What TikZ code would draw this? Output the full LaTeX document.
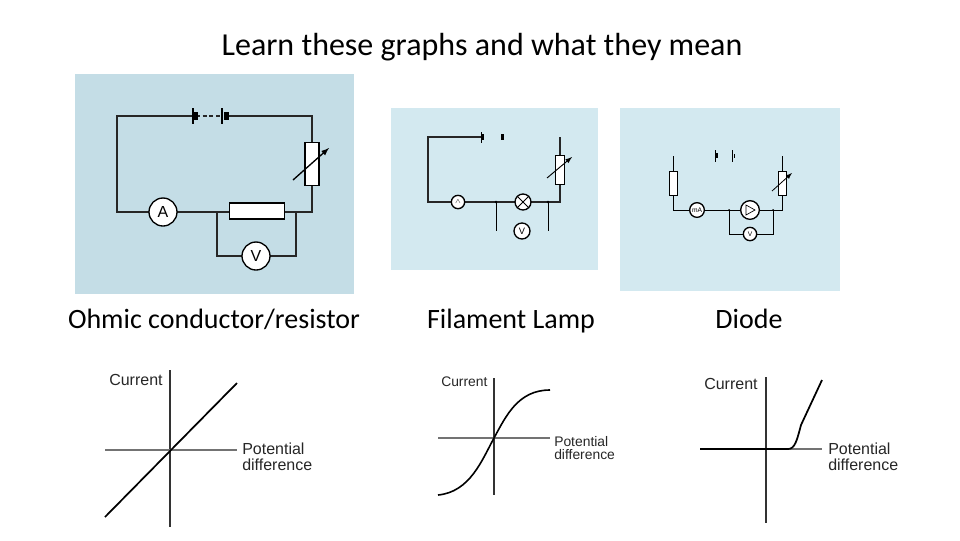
\documentclass[tikz,border=0pt]{standalone}
\usepackage{fontspec}
\setmainfont{Carlito}
\newfontfamily\arialf{Liberation Sans}
\definecolor{panelA}{HTML}{C4DDE6}
\definecolor{panelB}{HTML}{D3E9F0}
\begin{document}
\begin{tikzpicture}[x=0.75pt,y=-0.75pt,
 w/.style={line width=1.6pt,black!85},
 tw/.style={line width=0.8pt,black!85},
 meter/.style={circle,draw,line width=1pt,fill=white,inner sep=0pt,font=\arialf\small},
 ax/.style={line width=0.9pt,black!80},
 lbl/.style={font=\arialf\fontsize{12}{12.5}\selectfont,text=black!85,align=left,anchor=north west,inner sep=0pt},
 captxt/.style={font=\fontsize{21}{24}\selectfont,anchor=base}]
\useasboundingbox (0,0) rectangle (960,540);
\node[font=\fontsize{24}{28}\selectfont,anchor=base] (title) at (482,55) {Learn these graphs and what they mean};
% panels
\fill[panelA] (75,74) rectangle (354,294);
\fill[panelB] (391,108) rectangle (598,270);
\fill[panelB] (620,108) rectangle (840,291);
% circuit 1
\coordinate (a1) at (117,116); \coordinate (a2) at (193,116);
\coordinate (a3) at (224,116); \coordinate (a4) at (312,116);
\coordinate (a5) at (312,212); \coordinate (a6) at (117,212);
\coordinate (j1) at (217,212); \coordinate (j2) at (296,212);
\coordinate (b1) at (217,256); \coordinate (b2) at (296,256);
\draw[w] (a2)--(a1)--(a6)--(a5)--(a4)--(a3);
\draw[w] (j1)--(b1)--(b2)--(j2);
\draw[w,densely dashed] (196,116)--(222,116);
\draw[line width=1pt] (193,108)--(193,124); \fill (194,112) rectangle (198,120);
\draw[line width=1pt] (222,108)--(222,124); \fill (224,112) rectangle (229,120);
\node[draw,fill=white,line width=1pt,minimum width=10.5pt,minimum height=32pt,inner sep=0pt] (rh1) at (312,164) {};
\draw[line width=1pt,-latex] (293,180)--(329,148);
\node[meter,minimum size=21pt,font=\arialf\large] (A1) at (163,212) {A};
\node[draw,fill=white,line width=1pt,minimum width=41pt,minimum height=12pt,inner sep=0pt] (R1) at (257,211) {};
\node[meter,minimum size=21pt,font=\arialf\large] (V1) at (256,256) {V};
% circuit 2
\coordinate (c1) at (481,137); \coordinate (c2) at (428,137);
\coordinate (c3) at (428,202); \coordinate (c4) at (560,202);
\coordinate (c5) at (560,137);
\draw[tw] (c1)--(c2)--(c3)--(c4)--(c5);
\draw[line width=0.6pt] (481,132)--(481,143); \fill (482,134) rectangle (484,140);
\fill (501,134) rectangle (504,140);
\node[draw,fill=white,line width=0.7pt,minimum width=7pt,minimum height=22pt,inner sep=0pt] (rh2) at (560,170) {};
\draw[line width=0.7pt,-latex] (547,178)--(572,157);
\node[meter,minimum size=10pt,font=\arialf\tiny] (A2) at (458,202) {$\wedge$};
\node[meter,minimum size=12pt] (L2) at (523,202) {};
\draw[line width=0.6pt] (L2.north west)--(L2.south east) (L2.north east)--(L2.south west);
\fill (496,202) circle (1.3); \fill (548,202) circle (1.3);
\draw[line width=0.6pt] (496,202)--(496,231) (548,202)--(548,231);
\node[meter,minimum size=12pt,font=\arialf\scriptsize] (V2) at (522,231) {V};
% circuit 3
\coordinate (d1) at (673,156); \coordinate (d2) at (673,210);
\coordinate (d3) at (782,210); \coordinate (d4) at (782,156);
\draw[line width=0.6pt] (d1)--(d2)--(d3)--(d4);
\draw[line width=0.6pt] (729,210)--(729,234)--(773,234)--(773,210);
\node[draw,fill=white,line width=0.6pt,minimum width=6pt,minimum height=18pt,inner sep=0pt] (R3) at (673,183) {};
\node[draw,fill=white,line width=0.6pt,minimum width=6pt,minimum height=18pt,inner sep=0pt] (rh3) at (782,183) {};
\draw[line width=0.6pt,-latex] (772,191)--(792,173);
\draw[line width=0.6pt] (715,150)--(715,162) (732,150)--(732,162); \fill (716,153) rectangle (718,158); \fill (734,154) rectangle (735,158);
\node[meter,minimum size=11pt,font=\arialf\tiny] (mA) at (697,210) {mA};
\node[meter,minimum size=14pt] (D3) at (750,210) {};
\draw[line width=0.5pt] (746,205)--(746,215)--(755,210)--cycle;
\fill (729,210) circle (1); \fill (773,210) circle (1);
\node[meter,minimum size=10pt,font=\arialf\tiny] (V3) at (750,234) {V};
% captions
\node[captxt] (c1t) at (214,328) {Ohmic conductor/resistor};
\node[captxt] (c2t) at (511,328) {Filament Lamp};
\node[captxt] (c3t) at (749,328) {Diode};
% graph 1
\draw[ax] (170,370)--(170,527); \draw[ax,black!55] (105,450)--(237,450);
\draw[line width=1.3pt] (105,517)--(237,383);
\node[lbl] (g1c) at (109,374) {Current};
\node[lbl] (g1p) at (242,443) {Potential\\[-1pt]difference};
% graph 2
\draw[ax] (494,378)--(494,495); \draw[ax,black!55] (438,438)--(550,438);
\draw[line width=1.2pt] (438,495) .. controls (470,492) and (482,460) .. (494,438) .. controls (506,416) and (518,390) .. (550,390);
\node[lbl,font=\arialf\fontsize{10.4}{11}\selectfont] (g2c) at (441,377) {Current};
\node[lbl,font=\arialf\fontsize{10.4}{11}\selectfont] (g2p) at (554,436) {Potential\\[-1pt]difference};
% graph 3
\draw[ax] (766,377)--(766,523); \draw[ax,black!55] (766,449)--(822,449);
\draw[line width=2pt] (700,449)--(788,449);
\draw[line width=1.3pt] (788,449) .. controls (795,449) and (797,440) .. (801,425) -- (822,380);
\node[lbl] (g3c) at (704,378) {Current};
\node[lbl] (g3p) at (828,443) {Potential\\[-1pt]difference};
\end{tikzpicture}
\end{document}
